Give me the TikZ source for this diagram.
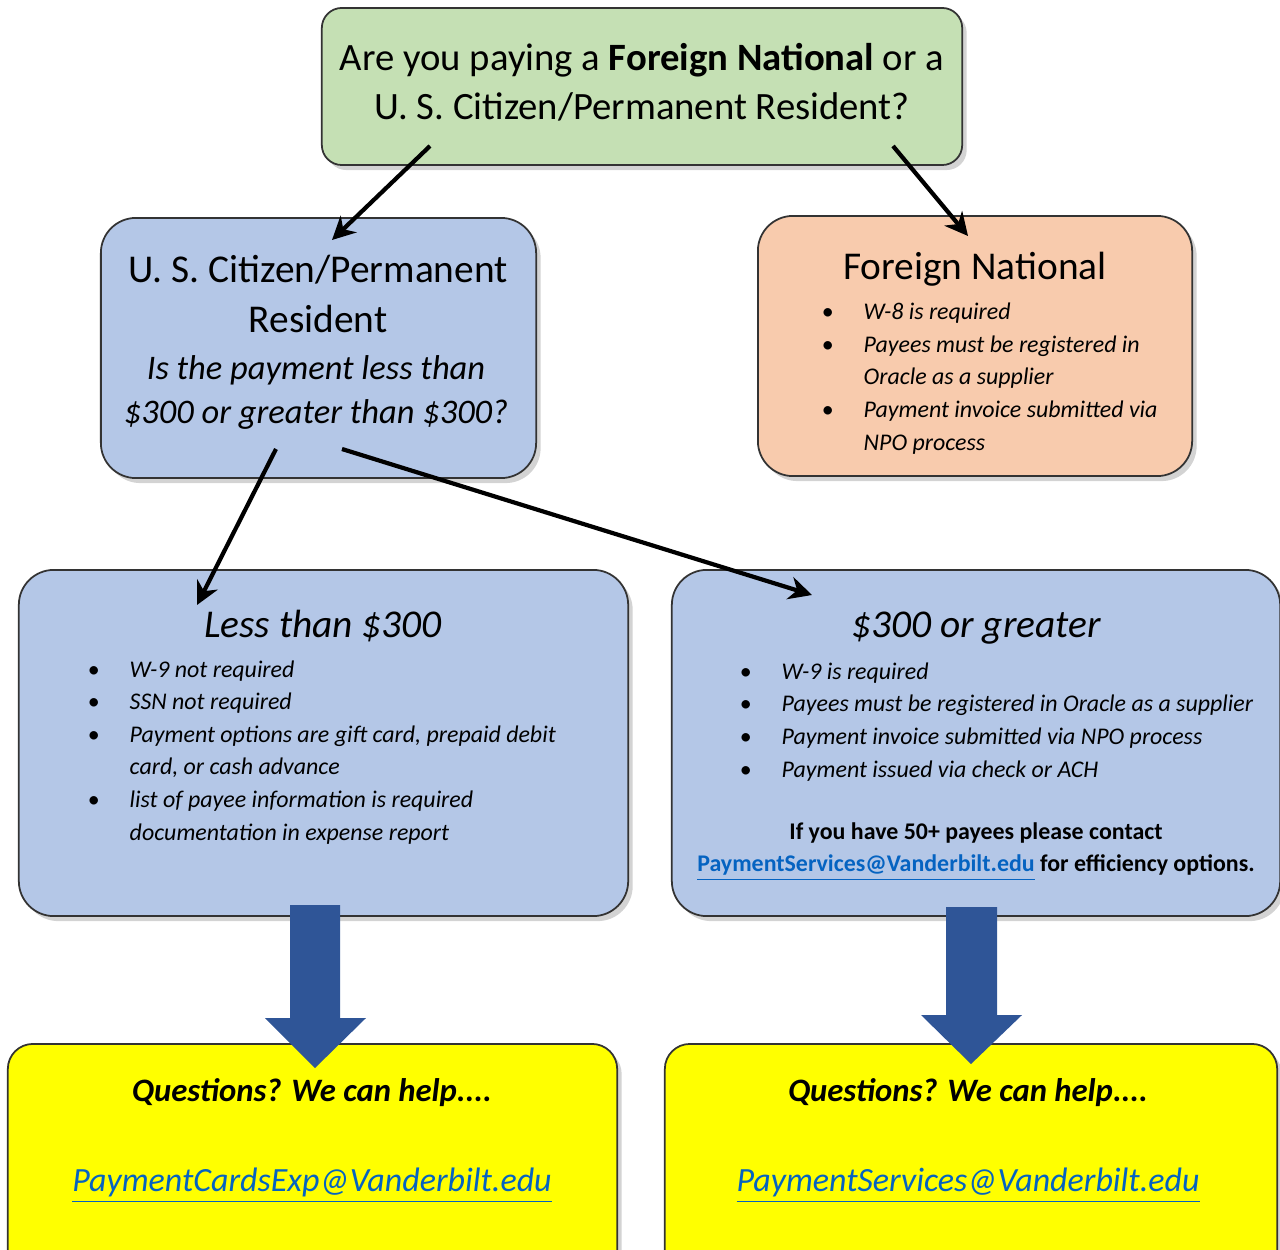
\documentclass[tikz,border=0pt]{standalone}
\usepackage{fontspec}
\setmainfont{Carlito}
\usetikzlibrary{arrows.meta,shadows}

\definecolor{askgreen}{HTML}{C5E0B4}
\definecolor{usblue}{HTML}{B4C7E7}
\definecolor{fnorange}{HTML}{F8CBAD}
\definecolor{helpyellow}{HTML}{FFFF00}
\definecolor{blockblue}{HTML}{2F5597}
\definecolor{linkblue}{HTML}{0563C1}

\newcommand{\bul}{\makebox[4.2mm][l]{\textbullet}}
\newcommand{\bpad}{\hspace*{4.2mm}}
\newcommand{\lnk}[1]{\textcolor{linkblue}{\underline{#1}}}

\begin{document}
\begin{tikzpicture}[x=0.01cm, y=-0.01cm,
	box/.style={draw=black!80, line width=0.5pt, inner sep=0pt, rounded corners=3.5mm,
		drop shadow={shadow xshift=0.45mm, shadow yshift=-0.5mm, opacity=0.35}},
	head/.style={inner sep=0pt, anchor=base, align=center},
	bullets/.style={inner sep=0pt, anchor=base west, align=left, font=\fontsize{6.8}{9.25}\selectfont\itshape},
	arr/.style={-{Stealth[length=2.3mm, width=2.3mm]}, line width=1.2pt},
	block/.style={fill=blockblue}]
	
	\useasboundingbox (0,0) rectangle (1280,1249);
	
	\node[box, fill=askgreen, rounded corners=2mm, minimum width=6.4cm, minimum height=1.57cm] (ask) at (642, 86.5) {};
	\node[box, fill=usblue, minimum width=4.35cm, minimum height=2.6cm] (us) at (318.5, 348) {};
	\node[box, fill=fnorange, minimum width=4.34cm, minimum height=2.6cm] (fn) at (975, 346) {};
	\node[box, fill=usblue, minimum width=6.09cm, minimum height=3.46cm] (lt) at (323.5, 743) {};
	\node[box, fill=usblue, minimum width=6.08cm, minimum height=3.46cm] (ge) at (976, 743) {};
	\node[box, fill=helpyellow, rounded corners=2.5mm, minimum width=6.09cm, minimum height=2.5cm] (hl) at (312.5, 1169) {};
	\node[box, fill=helpyellow, rounded corners=2.5mm, minimum width=6.12cm, minimum height=2.5cm] (hr) at (971, 1169) {};
	
	\node[head, font=\fontsize{11}{14.2}\selectfont] (askt) at (642, 120) {Are you paying a \textbf{Foreign National} or a\\U. S. Citizen/Permanent Resident?};
	
	\node[head, font=\fontsize{11.2}{14.2}\selectfont] (ust) at (318, 332) {U. S. Citizen/Permanent\\Resident};
	\node[head, font=\fontsize{9.8}{12.5}\selectfont\itshape] (usq) at (316, 423) {Is the payment less than\\\$300 or greater than \$300?};
	
	\node[head, font=\fontsize{11.2}{12}\selectfont] (fnt) at (975, 280) {Foreign National};
	\node[bullets] (fnl) at (821, 450) {\bul W-8 is required\\\bul Payees must be registered in\\\bpad Oracle as a supplier\\\bul Payment invoice submitted via\\\bpad NPO process};
	
	\node[head, font=\fontsize{11.2}{12}\selectfont\itshape] (ltt) at (323, 637) {Less than \$300};
	\node[bullets] (ltl) at (87, 840) {\bul W-9 not required\\\bul SSN not required\\\bul Payment options are gift card, prepaid debit\\\bpad card, or cash advance\\\bul list of payee information is required\\\bpad documentation in expense report};
	
	\node[head, font=\fontsize{11.2}{12}\selectfont\itshape] (get) at (976, 637) {\$300 or greater};
	\node[bullets] (gel) at (739, 777) {\bul W-9 is required\\\bul Payees must be registered in Oracle as a supplier\\\bul Payment invoice submitted via NPO process\\\bul Payment issued via check or ACH};
	\node[head, font=\fontsize{6.8}{9.1}\selectfont\bfseries] (gen) at (976, 871) {If you have 50+ payees please contact\\\lnk{PaymentServices@Vanderbilt.edu} for efficiency options.};
	
	\node[head, font=\fontsize{9.3}{10}\selectfont\bfseries\itshape] (hlq) at (312, 1101) {Questions? We can help....};
	\node[head, font=\fontsize{9.65}{10}\selectfont\itshape] (hll) at (312, 1191) {\lnk{PaymentCardsExp@Vanderbilt.edu}};
	\node[head, font=\fontsize{9.3}{10}\selectfont\bfseries\itshape] (hrq) at (968, 1101) {Questions? We can help....};
	\node[head, font=\fontsize{9.65}{10}\selectfont\itshape] (hrl) at (968, 1191) {\lnk{PaymentServices@Vanderbilt.edu}};
	
	\coordinate (ask1) at (430, 146);
	\coordinate (ask2) at (893, 146);
	\coordinate (us0) at (332, 240);
	\coordinate (fn0) at (968, 236);
	\coordinate (us1) at (276, 449);
	\coordinate (us2) at (342, 449);
	\coordinate (lt0) at (197, 605);
	\coordinate (ge0) at (812, 595);
	
	\path[arr] (ask1) edge (us0);
	\path[arr] (ask2) edge (fn0);
	\path[arr] (us1) edge (lt0);
	\path[arr] (us2) edge (ge0);
	
	\fill[block] (290,905) -- (340,905) -- (340,1018) -- (366,1018) -- (315,1068) -- (265,1018) -- (290,1018) -- cycle;
	\fill[block] (946,907) -- (997,907) -- (997,1015) -- (1022,1015) -- (971,1064) -- (921,1015) -- (946,1015) -- cycle;
	
\end{tikzpicture}
\end{document}
